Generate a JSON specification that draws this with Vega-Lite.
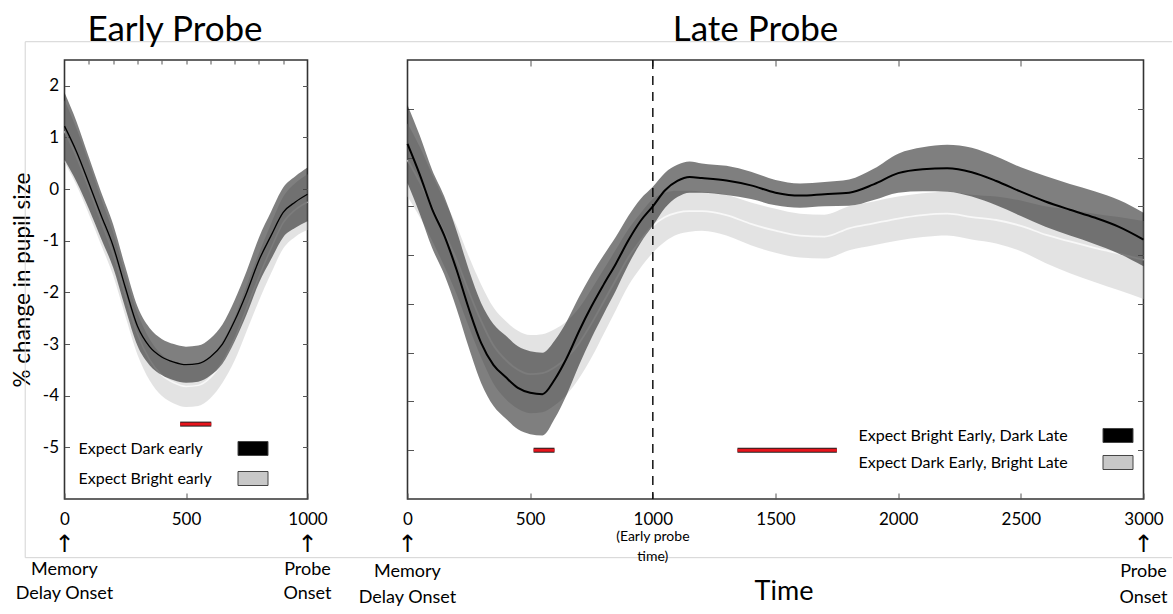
{
  "$schema": "https://vega.github.io/schema/vega-lite/v6.json",
  "padding": {"left": 10.5, "top": 12, "right": 0, "bottom": 4},
  "bounds": "flush",
  "spacing": 100,
  "config": {
    "font": "Lato",
    "view": {"stroke": "#333333", "strokeWidth": 1.6},
    "axis": {"domain": false, "grid": false, "tickColor": "#555555", "tickWidth": 1, "labelFont": "Lato", "labelFontSize": 17, "labelColor": "#000000", "titleFont": "Lato", "titleFontWeight": "normal", "titleColor": "#000000", "labelFlush": false, "labelOverlap": false, "labelExpr": "datum.value + ''"},
    "legend": {"labelFont": "Lato", "labelFontSize": 16, "labelColor": "#000000", "labelLimit": 400, "padding": 0, "symbolStrokeColor": "#444444", "symbolStrokeWidth": 1, "symbolOpacity": 1, "symbolType": "M-1,-0.467H1V0.467H-1Z", "symbolSize": 900}
  },
  "resolve": {"scale": {"fill": "independent"}},
  "datasets": {
    "early": [
      {"t": 0, "c": "Expect Dark early", "m": 1.22, "lo": 0.57, "hi": 1.87},
      {"t": 50, "c": "Expect Dark early", "m": 0.72, "lo": 0.14, "hi": 1.3},
      {"t": 100, "c": "Expect Dark early", "m": 0.12, "lo": -0.38, "hi": 0.62},
      {"t": 150, "c": "Expect Dark early", "m": -0.5, "lo": -0.95, "hi": -0.05},
      {"t": 200, "c": "Expect Dark early", "m": -1.1, "lo": -1.52, "hi": -0.68},
      {"t": 250, "c": "Expect Dark early", "m": -1.9, "lo": -2.3, "hi": -1.5},
      {"t": 300, "c": "Expect Dark early", "m": -2.65, "lo": -3.03, "hi": -2.27},
      {"t": 350, "c": "Expect Dark early", "m": -3.05, "lo": -3.41, "hi": -2.69},
      {"t": 400, "c": "Expect Dark early", "m": -3.25, "lo": -3.6, "hi": -2.9},
      {"t": 450, "c": "Expect Dark early", "m": -3.35, "lo": -3.7, "hi": -3.0},
      {"t": 500, "c": "Expect Dark early", "m": -3.4, "lo": -3.75, "hi": -3.05},
      {"t": 550, "c": "Expect Dark early", "m": -3.38, "lo": -3.73, "hi": -3.03},
      {"t": 600, "c": "Expect Dark early", "m": -3.25, "lo": -3.61, "hi": -2.89},
      {"t": 650, "c": "Expect Dark early", "m": -3.0, "lo": -3.38, "hi": -2.62},
      {"t": 700, "c": "Expect Dark early", "m": -2.55, "lo": -2.95, "hi": -2.15},
      {"t": 750, "c": "Expect Dark early", "m": -2.0, "lo": -2.42, "hi": -1.58},
      {"t": 800, "c": "Expect Dark early", "m": -1.38, "lo": -1.82, "hi": -0.94},
      {"t": 850, "c": "Expect Dark early", "m": -0.9, "lo": -1.36, "hi": -0.44},
      {"t": 900, "c": "Expect Dark early", "m": -0.45, "lo": -0.93, "hi": 0.03},
      {"t": 950, "c": "Expect Dark early", "m": -0.25, "lo": -0.75, "hi": 0.25},
      {"t": 1000, "c": "Expect Dark early", "m": -0.1, "lo": -0.62, "hi": 0.42},
      {"t": 0, "c": "Expect Bright early", "m": 1.12, "lo": 0.52, "hi": 1.72},
      {"t": 50, "c": "Expect Bright early", "m": 0.62, "lo": 0.07, "hi": 1.17},
      {"t": 100, "c": "Expect Bright early", "m": 0.02, "lo": -0.48, "hi": 0.52},
      {"t": 150, "c": "Expect Bright early", "m": -0.62, "lo": -1.07, "hi": -0.17},
      {"t": 200, "c": "Expect Bright early", "m": -1.25, "lo": -1.67, "hi": -0.83},
      {"t": 250, "c": "Expect Bright early", "m": -2.05, "lo": -2.45, "hi": -1.65},
      {"t": 300, "c": "Expect Bright early", "m": -2.8, "lo": -3.2, "hi": -2.4},
      {"t": 350, "c": "Expect Bright early", "m": -3.3, "lo": -3.7, "hi": -2.9},
      {"t": 400, "c": "Expect Bright early", "m": -3.6, "lo": -4.0, "hi": -3.2},
      {"t": 450, "c": "Expect Bright early", "m": -3.75, "lo": -4.15, "hi": -3.35},
      {"t": 500, "c": "Expect Bright early", "m": -3.82, "lo": -4.22, "hi": -3.42},
      {"t": 550, "c": "Expect Bright early", "m": -3.8, "lo": -4.2, "hi": -3.4},
      {"t": 600, "c": "Expect Bright early", "m": -3.65, "lo": -4.05, "hi": -3.25},
      {"t": 650, "c": "Expect Bright early", "m": -3.35, "lo": -3.75, "hi": -2.95},
      {"t": 700, "c": "Expect Bright early", "m": -2.9, "lo": -3.32, "hi": -2.48},
      {"t": 750, "c": "Expect Bright early", "m": -2.3, "lo": -2.74, "hi": -1.86},
      {"t": 800, "c": "Expect Bright early", "m": -1.7, "lo": -2.16, "hi": -1.24},
      {"t": 850, "c": "Expect Bright early", "m": -1.15, "lo": -1.63, "hi": -0.67},
      {"t": 900, "c": "Expect Bright early", "m": -0.65, "lo": -1.15, "hi": -0.15},
      {"t": 950, "c": "Expect Bright early", "m": -0.4, "lo": -0.92, "hi": 0.12},
      {"t": 1000, "c": "Expect Bright early", "m": -0.25, "lo": -0.79, "hi": 0.29}
    ],
    "late": [
      {"t": 0, "c": "Expect Bright Early, Dark Late", "m": 1.28, "lo": 0.48, "hi": 2.08},
      {"t": 50, "c": "Expect Bright Early, Dark Late", "m": 0.65, "lo": -0.15, "hi": 1.45},
      {"t": 100, "c": "Expect Bright Early, Dark Late", "m": -0.05, "lo": -0.85, "hi": 0.75},
      {"t": 150, "c": "Expect Bright Early, Dark Late", "m": -0.6, "lo": -1.4, "hi": 0.2},
      {"t": 200, "c": "Expect Bright Early, Dark Late", "m": -1.3, "lo": -2.1, "hi": -0.5},
      {"t": 250, "c": "Expect Bright Early, Dark Late", "m": -2.1, "lo": -2.9, "hi": -1.3},
      {"t": 300, "c": "Expect Bright Early, Dark Late", "m": -2.8, "lo": -3.62, "hi": -1.98},
      {"t": 350, "c": "Expect Bright Early, Dark Late", "m": -3.25, "lo": -4.09, "hi": -2.41},
      {"t": 400, "c": "Expect Bright Early, Dark Late", "m": -3.5, "lo": -4.35, "hi": -2.65},
      {"t": 450, "c": "Expect Bright Early, Dark Late", "m": -3.72, "lo": -4.57, "hi": -2.87},
      {"t": 500, "c": "Expect Bright Early, Dark Late", "m": -3.82, "lo": -4.67, "hi": -2.97},
      {"t": 550, "c": "Expect Bright Early, Dark Late", "m": -3.85, "lo": -4.7, "hi": -3.0},
      {"t": 600, "c": "Expect Bright Early, Dark Late", "m": -3.55, "lo": -4.35, "hi": -2.75},
      {"t": 650, "c": "Expect Bright Early, Dark Late", "m": -3.1, "lo": -3.85, "hi": -2.35},
      {"t": 700, "c": "Expect Bright Early, Dark Late", "m": -2.55, "lo": -3.25, "hi": -1.85},
      {"t": 750, "c": "Expect Bright Early, Dark Late", "m": -2.05, "lo": -2.7, "hi": -1.4},
      {"t": 800, "c": "Expect Bright Early, Dark Late", "m": -1.6, "lo": -2.2, "hi": -1.0},
      {"t": 850, "c": "Expect Bright Early, Dark Late", "m": -1.17, "lo": -1.72, "hi": -0.62},
      {"t": 900, "c": "Expect Bright Early, Dark Late", "m": -0.7, "lo": -1.2, "hi": -0.2},
      {"t": 950, "c": "Expect Bright Early, Dark Late", "m": -0.3, "lo": -0.75, "hi": 0.15},
      {"t": 1000, "c": "Expect Bright Early, Dark Late", "m": 0.0, "lo": -0.4, "hi": 0.4},
      {"t": 1050, "c": "Expect Bright Early, Dark Late", "m": 0.33, "lo": -0.03, "hi": 0.69},
      {"t": 1100, "c": "Expect Bright Early, Dark Late", "m": 0.52, "lo": 0.19, "hi": 0.85},
      {"t": 1150, "c": "Expect Bright Early, Dark Late", "m": 0.6, "lo": 0.28, "hi": 0.92},
      {"t": 1200, "c": "Expect Bright Early, Dark Late", "m": 0.58, "lo": 0.28, "hi": 0.88},
      {"t": 1300, "c": "Expect Bright Early, Dark Late", "m": 0.53, "lo": 0.23, "hi": 0.83},
      {"t": 1400, "c": "Expect Bright Early, Dark Late", "m": 0.43, "lo": 0.15, "hi": 0.71},
      {"t": 1500, "c": "Expect Bright Early, Dark Late", "m": 0.28, "lo": 0.02, "hi": 0.54},
      {"t": 1600, "c": "Expect Bright Early, Dark Late", "m": 0.22, "lo": -0.03, "hi": 0.47},
      {"t": 1700, "c": "Expect Bright Early, Dark Late", "m": 0.25, "lo": 0.0, "hi": 0.5},
      {"t": 1800, "c": "Expect Bright Early, Dark Late", "m": 0.28, "lo": 0.01, "hi": 0.55},
      {"t": 1900, "c": "Expect Bright Early, Dark Late", "m": 0.45, "lo": 0.13, "hi": 0.77},
      {"t": 2000, "c": "Expect Bright Early, Dark Late", "m": 0.68, "lo": 0.28, "hi": 1.08},
      {"t": 2100, "c": "Expect Bright Early, Dark Late", "m": 0.76, "lo": 0.31, "hi": 1.21},
      {"t": 2200, "c": "Expect Bright Early, Dark Late", "m": 0.78, "lo": 0.3, "hi": 1.26},
      {"t": 2300, "c": "Expect Bright Early, Dark Late", "m": 0.7, "lo": 0.2, "hi": 1.2},
      {"t": 2400, "c": "Expect Bright Early, Dark Late", "m": 0.52, "lo": 0.02, "hi": 1.02},
      {"t": 2500, "c": "Expect Bright Early, Dark Late", "m": 0.3, "lo": -0.2, "hi": 0.8},
      {"t": 2600, "c": "Expect Bright Early, Dark Late", "m": 0.1, "lo": -0.42, "hi": 0.62},
      {"t": 2700, "c": "Expect Bright Early, Dark Late", "m": -0.07, "lo": -0.6, "hi": 0.46},
      {"t": 2800, "c": "Expect Bright Early, Dark Late", "m": -0.23, "lo": -0.77, "hi": 0.31},
      {"t": 2900, "c": "Expect Bright Early, Dark Late", "m": -0.42, "lo": -0.97, "hi": 0.13},
      {"t": 3000, "c": "Expect Bright Early, Dark Late", "m": -0.68, "lo": -1.23, "hi": -0.13},
      {"t": 0, "c": "Expect Dark Early, Bright Late", "m": 0.95, "lo": 0.2, "hi": 1.7},
      {"t": 50, "c": "Expect Dark Early, Bright Late", "m": 0.5, "lo": -0.22, "hi": 1.22},
      {"t": 100, "c": "Expect Dark Early, Bright Late", "m": -0.02, "lo": -0.7, "hi": 0.66},
      {"t": 150, "c": "Expect Dark Early, Bright Late", "m": -0.55, "lo": -1.23, "hi": 0.13},
      {"t": 200, "c": "Expect Dark Early, Bright Late", "m": -1.1, "lo": -1.8, "hi": -0.4},
      {"t": 250, "c": "Expect Dark Early, Bright Late", "m": -1.75, "lo": -2.47, "hi": -1.03},
      {"t": 300, "c": "Expect Dark Early, Bright Late", "m": -2.35, "lo": -3.1, "hi": -1.6},
      {"t": 350, "c": "Expect Dark Early, Bright Late", "m": -2.85, "lo": -3.63, "hi": -2.07},
      {"t": 400, "c": "Expect Dark Early, Bright Late", "m": -3.15, "lo": -3.95, "hi": -2.35},
      {"t": 450, "c": "Expect Dark Early, Bright Late", "m": -3.35, "lo": -4.15, "hi": -2.55},
      {"t": 500, "c": "Expect Dark Early, Bright Late", "m": -3.44, "lo": -4.24, "hi": -2.64},
      {"t": 550, "c": "Expect Dark Early, Bright Late", "m": -3.42, "lo": -4.22, "hi": -2.62},
      {"t": 600, "c": "Expect Dark Early, Bright Late", "m": -3.3, "lo": -4.08, "hi": -2.52},
      {"t": 650, "c": "Expect Dark Early, Bright Late", "m": -3.1, "lo": -3.85, "hi": -2.35},
      {"t": 700, "c": "Expect Dark Early, Bright Late", "m": -2.8, "lo": -3.52, "hi": -2.08},
      {"t": 750, "c": "Expect Dark Early, Bright Late", "m": -2.4, "lo": -3.1, "hi": -1.7},
      {"t": 800, "c": "Expect Dark Early, Bright Late", "m": -1.95, "lo": -2.61, "hi": -1.29},
      {"t": 850, "c": "Expect Dark Early, Bright Late", "m": -1.5, "lo": -2.12, "hi": -0.88},
      {"t": 900, "c": "Expect Dark Early, Bright Late", "m": -1.05, "lo": -1.63, "hi": -0.47},
      {"t": 950, "c": "Expect Dark Early, Bright Late", "m": -0.7, "lo": -1.26, "hi": -0.14},
      {"t": 1000, "c": "Expect Dark Early, Bright Late", "m": -0.4, "lo": -0.95, "hi": 0.15},
      {"t": 1050, "c": "Expect Dark Early, Bright Late", "m": -0.22, "lo": -0.72, "hi": 0.28},
      {"t": 1100, "c": "Expect Dark Early, Bright Late", "m": -0.13, "lo": -0.58, "hi": 0.32},
      {"t": 1150, "c": "Expect Dark Early, Bright Late", "m": -0.1, "lo": -0.52, "hi": 0.32},
      {"t": 1200, "c": "Expect Dark Early, Bright Late", "m": -0.1, "lo": -0.5, "hi": 0.3},
      {"t": 1300, "c": "Expect Dark Early, Bright Late", "m": -0.18, "lo": -0.6, "hi": 0.24},
      {"t": 1400, "c": "Expect Dark Early, Bright Late", "m": -0.36, "lo": -0.8, "hi": 0.08},
      {"t": 1500, "c": "Expect Dark Early, Bright Late", "m": -0.5, "lo": -0.95, "hi": -0.05},
      {"t": 1600, "c": "Expect Dark Early, Bright Late", "m": -0.6, "lo": -1.05, "hi": -0.15},
      {"t": 1700, "c": "Expect Dark Early, Bright Late", "m": -0.62, "lo": -1.07, "hi": -0.17},
      {"t": 1800, "c": "Expect Dark Early, Bright Late", "m": -0.45, "lo": -0.9, "hi": 0.0},
      {"t": 1900, "c": "Expect Dark Early, Bright Late", "m": -0.35, "lo": -0.8, "hi": 0.1},
      {"t": 2000, "c": "Expect Dark Early, Bright Late", "m": -0.25, "lo": -0.7, "hi": 0.2},
      {"t": 2100, "c": "Expect Dark Early, Bright Late", "m": -0.18, "lo": -0.63, "hi": 0.27},
      {"t": 2200, "c": "Expect Dark Early, Bright Late", "m": -0.15, "lo": -0.6, "hi": 0.3},
      {"t": 2300, "c": "Expect Dark Early, Bright Late", "m": -0.22, "lo": -0.68, "hi": 0.24},
      {"t": 2400, "c": "Expect Dark Early, Bright Late", "m": -0.28, "lo": -0.76, "hi": 0.2},
      {"t": 2500, "c": "Expect Dark Early, Bright Late", "m": -0.4, "lo": -0.92, "hi": 0.12},
      {"t": 2600, "c": "Expect Dark Early, Bright Late", "m": -0.58, "lo": -1.16, "hi": 0.0},
      {"t": 2700, "c": "Expect Dark Early, Bright Late", "m": -0.72, "lo": -1.37, "hi": -0.07},
      {"t": 2800, "c": "Expect Dark Early, Bright Late", "m": -0.85, "lo": -1.55, "hi": -0.15},
      {"t": 2900, "c": "Expect Dark Early, Bright Late", "m": -0.97, "lo": -1.72, "hi": -0.22},
      {"t": 3000, "c": "Expect Dark Early, Bright Late", "m": -1.1, "lo": -1.9, "hi": -0.3}
    ],
    "sigE": [{"t1": 476, "t2": 604, "v": -4.55}],
    "sigL": [{"t1": 514, "t2": 599, "v": -5.0}, {"t1": 1345, "t2": 1750, "v": -5.0}],
    "annE": [{"t": 0, "label": "Memory\nDelay Onset"}, {"t": 1000, "label": "Probe\nOnset"}],
    "annL": [{"t": 0, "label": "Memory\nDelay Onset"}, {"t": 3000, "label": "Probe\nOnset"}],
    "annL2": [{"t": 1000, "label": "(Early probe\ntime)"}]
  },
  "hconcat": [
    {
      "width": 243,
      "height": 439,
      "title": {"text": "Early Probe", "fontSize": 35, "font": "Lato", "fontWeight": "normal", "color": "#000000", "baseline": "alphabetic", "offset": -35, "dx": -11},
      "resolve": {"axis": {"x": "independent", "y": "independent"}},
      "layer": [
        {
          "data": {"name": "early"},
          "transform": [{"filter": "datum.c == 'Expect Bright early'"}],
          "mark": {"type": "area", "opacity": 0.5, "interpolate": "monotone"},
          "encoding": {
            "x": {"field": "t", "type": "quantitative", "scale": {"domain": [0, 1000], "nice": false, "zero": false},
                  "axis": {"orient": "bottom", "values": [0, 500, 1000], "tickSize": -6, "labelPadding": 18, "title": null}},
            "y": {"field": "lo", "type": "quantitative", "scale": {"domain": [-6, 2.5], "nice": false, "zero": false},
                  "axis": {"orient": "left", "values": [-5, -4, -3, -2, -1, 0, 1, 2], "tickSize": -5, "labelPadding": 11, "title": "% change in pupil size", "titleFontSize": 22.5, "titlePadding": 8}},
            "y2": {"field": "hi"},
            "fill": {"field": "c", "type": "nominal", "scale": {"domain": ["Expect Dark early", "Expect Bright early"], "range": ["#000000", "#c8c8c8"]},
                     "legend": {"title": null, "orient": "none", "legendX": 14, "legendY": 373, "symbolOffset": 159, "labelOffset": -190, "rowPadding": 5}}
          }
        },
        {
          "data": {"name": "early"},
          "transform": [{"filter": "datum.c == 'Expect Bright early'"}],
          "mark": {"type": "line", "color": "#f8f8f8", "strokeWidth": 1.5, "interpolate": "monotone"},
          "encoding": {
            "x": {"field": "t", "type": "quantitative", "axis": null},
            "y": {"field": "m", "type": "quantitative", "axis": null}
          }
        },
        {
          "data": {"name": "early"},
          "transform": [{"filter": "datum.c == 'Expect Dark early'"}],
          "mark": {"type": "area", "opacity": 0.5, "interpolate": "monotone"},
          "encoding": {
            "x": {"field": "t", "type": "quantitative",
                  "axis": {"orient": "top", "values": [100, 200, 300, 400, 500, 600, 700, 800, 900], "tickSize": -4, "labels": false, "title": null}},
            "y": {"field": "lo", "type": "quantitative",
                  "axis": {"orient": "right", "values": [-5, -4, -3, -2, -1, 0, 1, 2], "tickSize": -5, "labels": false, "title": null}},
            "y2": {"field": "hi"},
            "fill": {"field": "c", "type": "nominal", "scale": {"domain": ["Expect Dark early", "Expect Bright early"], "range": ["#000000", "#c8c8c8"]},
                     "legend": {"title": null, "orient": "none", "legendX": 14, "legendY": 373, "symbolOffset": 159, "labelOffset": -190, "rowPadding": 5}}
          }
        },
        {
          "data": {"name": "early"},
          "transform": [{"filter": "datum.c == 'Expect Dark early'"}],
          "mark": {"type": "line", "color": "#000000", "strokeWidth": 1.3, "interpolate": "monotone"},
          "encoding": {
            "x": {"field": "t", "type": "quantitative", "axis": null},
            "y": {"field": "m", "type": "quantitative", "axis": null}
          }
        },
        {
          "data": {"name": "sigE"},
          "mark": {"type": "rule", "color": "#222222", "strokeWidth": 5},
          "encoding": {
            "x": {"field": "t1", "type": "quantitative", "axis": null},
            "x2": {"field": "t2"},
            "y": {"field": "v", "type": "quantitative", "axis": null}
          }
        },
        {
          "data": {"name": "sigE"},
          "mark": {"type": "rule", "color": "#e8141c", "strokeWidth": 3},
          "encoding": {
            "x": {"field": "t1", "type": "quantitative", "axis": null},
            "x2": {"field": "t2"},
            "y": {"field": "v", "type": "quantitative", "axis": null}
          }
        },
        {
          "data": {"name": "annE"},
          "mark": {"type": "text", "text": "↑", "font": "DejaVu Sans", "fontSize": 24, "baseline": "middle", "align": "center", "dy": 46, "color": "#000000"},
          "encoding": {
            "x": {"field": "t", "type": "quantitative", "axis": null},
            "y": {"datum": -6, "type": "quantitative", "axis": null}
          }
        },
        {
          "data": {"name": "annE"},
          "mark": {"type": "text", "font": "Lato", "fontSize": 18, "baseline": "top", "align": "center", "dy": 62, "lineBreak": "\n", "lineHeight": 24, "color": "#000000"},
          "encoding": {
            "x": {"field": "t", "type": "quantitative", "axis": null},
            "y": {"datum": -6, "type": "quantitative", "axis": null},
            "text": {"field": "label"}
          }
        },
        {
          "data": {"values": [{"side": "frame"}]},
          "mark": {"type": "rule", "color": "#d4d4d4", "strokeWidth": 1},
          "encoding": {
            "x": {"datum": -161.7, "type": "quantitative", "axis": null},
            "y": {"datum": 2.854, "type": "quantitative", "axis": null},
            "y2": {"datum": -7.136}
          }
        },
        {
          "data": {"values": [{"side": "frame"}]},
          "mark": {"type": "rule", "color": "#d4d4d4", "strokeWidth": 1},
          "encoding": {
            "x": {"datum": -161.7, "type": "quantitative", "axis": null},
            "x2": {"datum": 4558},
            "y": {"datum": 2.854, "type": "quantitative", "axis": null}
          }
        },
        {
          "data": {"values": [{"side": "frame"}]},
          "mark": {"type": "rule", "color": "#d4d4d4", "strokeWidth": 1},
          "encoding": {
            "x": {"datum": -161.7, "type": "quantitative", "axis": null},
            "x2": {"datum": 4558},
            "y": {"datum": -7.136, "type": "quantitative", "axis": null}
          }
        }
      ]
    },
    {
      "width": 736,
      "height": 439,
      "title": {"text": "Late Probe", "fontSize": 35, "font": "Lato", "fontWeight": "normal", "color": "#000000", "baseline": "alphabetic", "offset": -17, "dx": -20},
      "resolve": {"axis": {"x": "independent", "y": "independent"}},
      "layer": [
        {
          "data": {"name": "late"},
          "transform": [{"filter": "datum.c == 'Expect Dark Early, Bright Late'"}],
          "mark": {"type": "area", "opacity": 0.5, "interpolate": "monotone"},
          "encoding": {
            "x": {"field": "t", "type": "quantitative", "scale": {"domain": [0, 3000], "nice": false, "zero": false},
                  "axis": {"orient": "bottom", "values": [0, 500, 1000, 1500, 2000, 2500, 3000], "tickSize": -6, "labelPadding": 18, "title": "Time", "titleFontSize": 27, "titlePadding": 51, "titleX": 376}},
            "y": {"field": "lo", "type": "quantitative", "scale": {"domain": [-6, 3], "nice": false, "zero": false},
                  "axis": {"orient": "left", "values": [-5, -4, -3, -2, -1, 0, 1, 2], "tickSize": -6, "labels": false, "title": null}},
            "y2": {"field": "hi"},
            "fill": {"field": "c", "type": "nominal", "scale": {"domain": ["Expect Bright Early, Dark Late", "Expect Dark Early, Bright Late"], "range": ["#000000", "#c8c8c8"]},
                     "legend": {"title": null, "orient": "none", "legendX": 451, "legendY": 360, "symbolOffset": 244, "labelOffset": -275, "rowPadding": 2}}
          }
        },
        {
          "data": {"name": "late"},
          "transform": [{"filter": "datum.c == 'Expect Dark Early, Bright Late'"}],
          "mark": {"type": "line", "color": "#f8f8f8", "strokeWidth": 1.8, "interpolate": "monotone"},
          "encoding": {
            "x": {"field": "t", "type": "quantitative", "axis": null},
            "y": {"field": "m", "type": "quantitative", "axis": null}
          }
        },
        {
          "data": {"name": "late"},
          "transform": [{"filter": "datum.c == 'Expect Bright Early, Dark Late'"}],
          "mark": {"type": "area", "opacity": 0.5, "interpolate": "monotone"},
          "encoding": {
            "x": {"field": "t", "type": "quantitative",
                  "axis": {"orient": "top", "values": [500, 1000, 1500, 2000, 2500], "tickSize": -6, "labels": false, "title": null}},
            "y": {"field": "lo", "type": "quantitative",
                  "axis": {"orient": "right", "values": [-5, -4, -3, -2, -1, 0, 1, 2], "tickSize": -6, "labels": false, "title": null}},
            "y2": {"field": "hi"},
            "fill": {"field": "c", "type": "nominal", "scale": {"domain": ["Expect Bright Early, Dark Late", "Expect Dark Early, Bright Late"], "range": ["#000000", "#c8c8c8"]},
                     "legend": {"title": null, "orient": "none", "legendX": 451, "legendY": 360, "symbolOffset": 244, "labelOffset": -275, "rowPadding": 2}}
          }
        },
        {
          "data": {"name": "late"},
          "transform": [{"filter": "datum.c == 'Expect Bright Early, Dark Late'"}],
          "mark": {"type": "line", "color": "#000000", "strokeWidth": 2, "interpolate": "monotone"},
          "encoding": {
            "x": {"field": "t", "type": "quantitative", "axis": null},
            "y": {"field": "m", "type": "quantitative", "axis": null}
          }
        },
        {
          "data": {"values": [{"t": 1000}]},
          "mark": {"type": "rule", "color": "#000000", "strokeWidth": 1.4, "strokeDash": [9, 7]},
          "encoding": {
            "x": {"field": "t", "type": "quantitative", "axis": null}
          }
        },
        {
          "data": {"name": "sigL"},
          "mark": {"type": "rule", "color": "#222222", "strokeWidth": 5},
          "encoding": {
            "x": {"field": "t1", "type": "quantitative", "axis": null},
            "x2": {"field": "t2"},
            "y": {"field": "v", "type": "quantitative", "axis": null}
          }
        },
        {
          "data": {"name": "sigL"},
          "mark": {"type": "rule", "color": "#e8141c", "strokeWidth": 3},
          "encoding": {
            "x": {"field": "t1", "type": "quantitative", "axis": null},
            "x2": {"field": "t2"},
            "y": {"field": "v", "type": "quantitative", "axis": null}
          }
        },
        {
          "data": {"name": "annL"},
          "mark": {"type": "text", "text": "↑", "font": "DejaVu Sans", "fontSize": 24, "baseline": "middle", "align": "center", "dy": 46, "color": "#000000"},
          "encoding": {
            "x": {"field": "t", "type": "quantitative", "axis": null},
            "y": {"datum": -6, "type": "quantitative", "axis": null}
          }
        },
        {
          "data": {"name": "annL"},
          "mark": {"type": "text", "font": "Lato", "fontSize": 18, "baseline": "top", "align": "center", "dy": 64, "lineBreak": "\n", "lineHeight": 26, "color": "#000000"},
          "encoding": {
            "x": {"field": "t", "type": "quantitative", "axis": null},
            "y": {"datum": -6, "type": "quantitative", "axis": null},
            "text": {"field": "label"}
          }
        },
        {
          "data": {"name": "annL2"},
          "mark": {"type": "text", "font": "Lato", "fontSize": 14, "baseline": "top", "align": "center", "dy": 31, "lineBreak": "\n", "lineHeight": 20, "color": "#000000"},
          "encoding": {
            "x": {"field": "t", "type": "quantitative", "axis": null},
            "y": {"datum": -6, "type": "quantitative", "axis": null},
            "text": {"field": "label"}
          }
        }
      ]
    }
  ]
}
